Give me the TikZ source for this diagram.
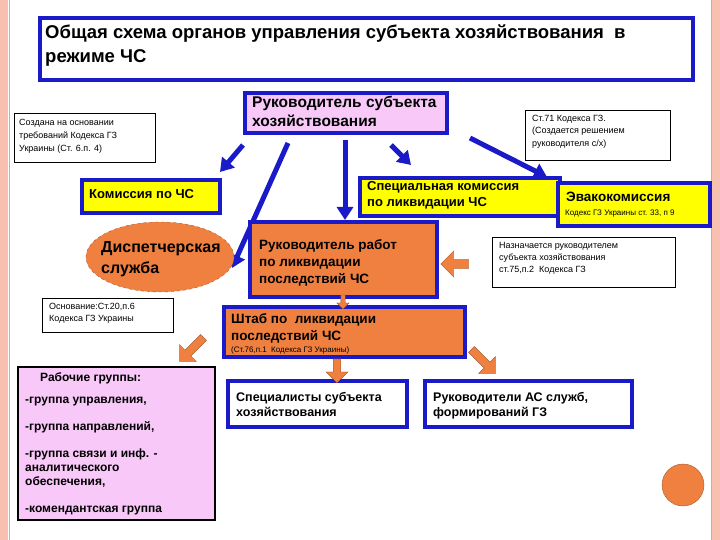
\documentclass[tikz,border=0pt]{standalone}
\usepackage{fontspec}
\setmainfont{Liberation Sans}
\usetikzlibrary{shapes.geometric,shapes.arrows,arrows.meta}
\definecolor{bl}{HTML}{1A1AC8}
\definecolor{yel}{HTML}{FFFF00}
\definecolor{org}{HTML}{F08040}
\definecolor{pk}{HTML}{F8C8F8}
\definecolor{sal}{HTML}{F8C0B0}
\tikzset{
 bbox/.style={draw=bl,line width=4pt,inner sep=0pt},
 note/.style={draw=black,line width=0.5pt,fill=white,inner sep=0pt},
 barr/.style={draw=bl,line width=5pt,-{Triangle[length=13pt,width=16pt]}},
 oarr/.style={single arrow,draw=org!60!black,line width=0.3pt,fill=org,minimum height=22pt,single arrow head extend=4pt,inner sep=2pt},
 txt/.style={align=left,anchor=north west,inner sep=0pt,font=\bfseries},
}
\begin{document}
\begin{tikzpicture}[x=1pt,y=-1pt]
\useasboundingbox (0,0) rectangle (720,540);
\fill[sal] (0,0) rectangle (720,540);
\fill[white] (8,0) rectangle (712,540);
\draw[sal!80!red,line width=1pt] (9,-2) -- (9,542) (711,-2) -- (711,542);
% blue arrows (behind)
\coordinate (a1s) at (243,145); \coordinate (a1e) at (220,172);
\coordinate (a2s) at (288,143); \coordinate (a2e) at (232,268);
\coordinate (a3s) at (345,140); \coordinate (a3e) at (345,220);
\coordinate (a4s) at (391,145); \coordinate (a4e) at (411,165);
\coordinate (a5s) at (470,138); \coordinate (a5e) at (547,177);
\draw[barr] (a1s) -- (a1e);
\draw[barr] (a2s) -- (a2e);
\draw[barr] (a3s) -- (a3e);
\draw[barr] (a4s) -- (a4e);
\draw[barr] (a5s) -- (a5e);
% title
\draw[bbox,fill=white] (40,18) rectangle (693,80);
\node[txt,font=\bfseries\fontsize{18.5}{24}\selectfont] (title) at (45,25) {Общая схема органов управления субъекта хозяйствования \ в\\режиме ЧС};
% boxes
\draw[bbox,fill=pk] (245,93) rectangle (447,133);
\node[txt,font=\bfseries\fontsize{15.5}{19}\selectfont] (ruk) at (252,96) {Руководитель субъекта\\хозяйствования};
\draw[note] (14,113) rectangle (155,162);
\node[txt,font=\fontsize{9}{13}\selectfont\mdseries] (n1) at (19,119) {Создана на основании\\требований Кодекса ГЗ\\Украины (Ст. 6.п. 4)};
\draw[note] (525,110) rectangle (670,160);
\node[txt,font=\fontsize{9}{12.5}\selectfont\mdseries] (n2) at (532,115) {Ст.71 Кодекса ГЗ.\\(Создается решением\\руководителя с/х)};
\draw[bbox,fill=yel] (82,180) rectangle (220,213);
\node[txt,font=\bfseries\fontsize{13}{15}\selectfont] (kom) at (89,189) {Комиссия по ЧС};
\draw[bbox,fill=yel] (360,178) rectangle (560,216);
\node[txt,font=\bfseries\fontsize{13}{16}\selectfont] (spec) at (367,181) {Специальная комиссия\\по ликвидации ЧС};
\draw[bbox,fill=yel] (558,183) rectangle (710,226);
\node[txt,font=\bfseries\fontsize{13.5}{15}\selectfont] (evak) at (566,192) {Эвакокомиссия};
\node[txt,font=\fontsize{8}{9}\selectfont\mdseries] (evak2) at (565,210) {Кодекс ГЗ Украины ст. 33, п 9};
\node[ellipse,draw=org!70!black,dashed,fill=org,minimum width=148pt,minimum height=70pt] (disp) at (160,257) {};
\node[txt,font=\bfseries\fontsize{16}{21}\selectfont] (dispt) at (101,241) {Диспетчерская\\служба};
\draw[bbox,fill=org] (250,222) rectangle (437,297);
\node[txt,font=\bfseries\fontsize{13.5}{17}\selectfont] (rr) at (259,239) {Руководитель работ\\по ликвидации\\последствий ЧС};
\draw[note] (492,237) rectangle (675,287);
\node[txt,font=\fontsize{9}{12}\selectfont\mdseries] (n3) at (499,242) {Назначается руководителем\\субъекта хозяйствования\\ст.75,п.2 \ Кодекса ГЗ};
\draw[note] (42,298) rectangle (173,332);
\node[txt,font=\fontsize{9}{12}\selectfont\mdseries] (n4) at (49,303) {Основание:Ст.20,п.6\\Кодекса ГЗ Украины};
\draw[bbox,fill=org] (224,307) rectangle (465,357);
\node[txt,font=\bfseries\fontsize{13.5}{17}\selectfont] (sh) at (231,313) {Штаб по \ ликвидации\\последствий ЧС};
\node[txt,font=\fontsize{8}{9}\selectfont\mdseries] (sh2) at (231,347) {(Ст.76,п.1 \ Кодекса ГЗ Украины)};
\draw[draw=black,line width=1.5pt,fill=pk] (18,367) rectangle (215,520);
\node[txt,font=\bfseries\fontsize{12}{24.5}\selectfont] (rg) at (40,372) {Рабочие группы:};
\node[txt,font=\bfseries\fontsize{12}{14}\selectfont] (rg2) at (25,397) {-группа управления,\\[13pt]-группа направлений,\\[13pt]-группа связи и инф. -\\аналитического\\обеспечения,\\[13pt]-комендантская группа};
\draw[bbox,fill=white] (228,381) rectangle (407,427);
\node[txt,font=\bfseries\fontsize{12.5}{15}\selectfont] (sp) at (236,392) {Специалисты субъекта\\хозяйствования};
\draw[bbox,fill=white] (425,381) rectangle (632,427);
\node[txt,font=\bfseries\fontsize{12.5}{15}\selectfont] (as) at (433,392) {Руководители АС служб,\\формирований ГЗ};
\node[circle,draw=org!70!black,fill=org,minimum size=42pt] (circ) at (683,485) {};
% orange arrows
\node[oarr,rotate=180,minimum height=28pt,minimum width=26pt] (o1) at (457,264) {};
\node[oarr,rotate=-90,minimum height=14pt,minimum width=12pt] (o2) at (343,301) {};
\node[oarr,rotate=-135,minimum height=34pt,minimum width=24pt] (o3) at (193,348) {};
\node[oarr,rotate=-45,minimum height=34pt,minimum width=24pt] (o4) at (482,360) {};
\node[oarr,rotate=-90,minimum height=24pt,minimum width=22pt] (o5) at (337,369) {};
\end{tikzpicture}
\end{document}
